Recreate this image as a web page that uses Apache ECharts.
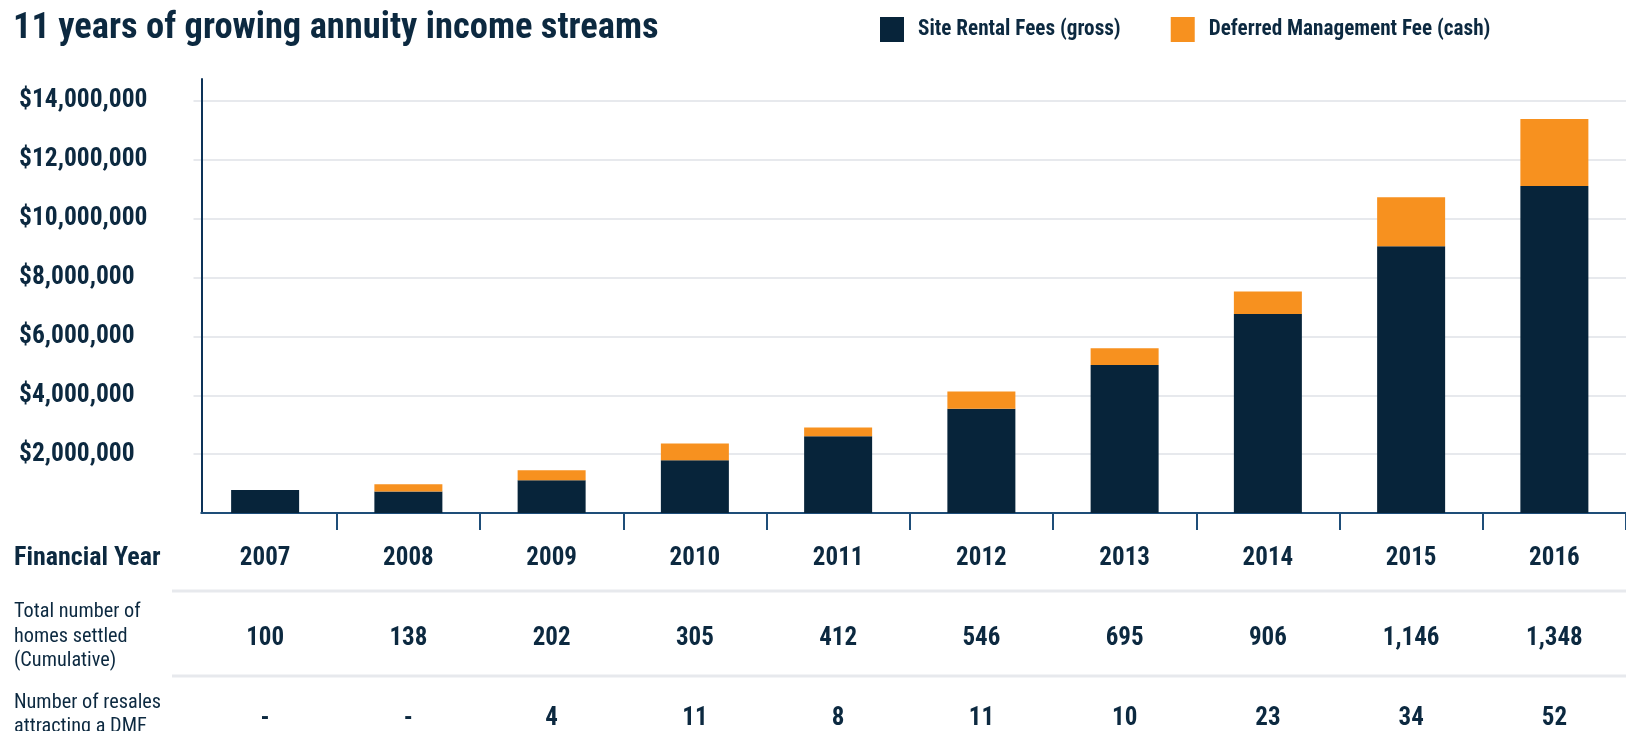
<!DOCTYPE html>
<html>
<head>
<meta charset="utf-8">
<script src="https://cdn.jsdelivr.net/npm/echarts@6/dist/echarts.min.js"></script>
<style>
html,body{margin:0;padding:0;background:#fff;}
#chart{width:1626px;height:731px;}
</style>
</head>
<body>
<div id="chart"></div>
<script>
// ---- data ----
const years = ['2007','2008','2009','2010','2011','2012','2013','2014','2015','2016'];
const siteRentalFees = [780000, 730000, 1110000, 1790000, 2610000, 3540000, 5030000, 6760000, 9070000, 11110000];
const deferredMgmtFee = [0, 250000, 340000, 570000, 300000, 590000, 570000, 770000, 1660000, 2280000];
const homesSettled = ['100','138','202','305','412','546','695','906','1,146','1,348'];
const resalesDMF = ['-','-','4','11','8','11','10','23','34','52'];
const seriesNames = ['Site Rental Fees (gross)', 'Deferred Management Fee (cash)'];
const rowLabels = ['Financial Year', 'Total number of\nhomes settled\n(Cumulative)', 'Number of resales\nattracting a DMF'];
const titleText = '11 years of growing annuity income streams';

const FONT = "'Roboto Condensed', Roboto, sans-serif";
const NAVY = '#07243a';
const TEXT = '#0c2940';
const ORANGE = '#f7911f';
const GRID = '#e7e9ed';

const chart = echarts.init(document.getElementById('chart'), null, {renderer: 'canvas'});

const option = {
  backgroundColor: '#ffffff',
  animation: false,
  title: {
    text: titleText,
    left: 13, top: 10.5, padding: 0,
    textStyle: {fontFamily: FONT, fontWeight: 'bold', fontSize: 36.5, color: TEXT}
  },
  legend: {
    left: 875, top: 12,
    icon: 'rect',
    itemWidth: 24, itemHeight: 25,
    itemGap: 50,
    data: seriesNames,
    textStyle: {fontFamily: FONT, fontWeight: 'bold', fontSize: 21.2, color: TEXT, padding: [3,0,0,9]}
  },
  grid: {left: 193.5, right: -32.5, top: 79, bottom: 218, containLabel: false},
  xAxis: [
    {
      type: 'category', data: years, position: 'bottom',
      axisLine: {show: true, lineStyle: {color: '#1e4d78', width: 2}},
      axisTick: {show: true, length: 17, lineStyle: {color: '#1e4d78', width: 2},
                 interval: function (i) { return i !== 0; }},
      axisLabel: {margin: 33, fontFamily: FONT, fontWeight: 'bold', fontSize: 25, color: TEXT},
      splitLine: {show: false}
    },
    {
      type: 'category', data: homesSettled, position: 'bottom',
      axisLine: {show: false}, axisTick: {show: false},
      axisLabel: {margin: 113, fontFamily: FONT, fontWeight: 'bold', fontSize: 25, color: TEXT}
    },
    {
      type: 'category', data: resalesDMF, position: 'bottom',
      axisLine: {show: false}, axisTick: {show: false},
      axisLabel: {margin: 193, fontFamily: FONT, fontWeight: 'bold', fontSize: 25, color: TEXT}
    }
  ],
  yAxis: {
    type: 'value', min: 0, max: 14750000, interval: 2000000,
    offset: -8.5,
    axisLine: {show: true, lineStyle: {color: '#0d3358', width: 2}},
    axisTick: {show: false},
    splitLine: {show: true, showMaxLine: false, lineStyle: {color: GRID, width: 2}},
    axisLabel: {
      showMaxLabel: false,
      margin: 183, align: 'left', padding: [4, 0, 0, 0],
      fontFamily: FONT, fontWeight: 'bold', fontSize: 25.5, color: TEXT,
      formatter: function (v) { return v === 0 ? '' : '$' + v.toLocaleString('en-US'); }
    }
  },
  series: [
    {name: seriesNames[0], type: 'bar', stack: 'total', data: siteRentalFees, barWidth: 68,
     itemStyle: {color: NAVY}, xAxisIndex: 0},
    {name: seriesNames[1], type: 'bar', stack: 'total', data: deferredMgmtFee, barWidth: 68,
     itemStyle: {color: ORANGE}, xAxisIndex: 0}
  ],
  graphic: [
    {type: 'rect', shape: {x: 184, y: 509, width: 16.5, height: 8}, style: {fill: '#fff'}, z: 100},
    {type: 'rect', shape: {x: 172, y: 589.5, width: 1460, height: 3}, style: {fill: GRID}},
    {type: 'rect', shape: {x: 172, y: 674.5, width: 1460, height: 3}, style: {fill: GRID}},
    {type: 'text', x: 14, y: 558, style: {text: rowLabels[0], font: "bold 26px " + FONT, fill: TEXT, verticalAlign: 'middle'}},
    {type: 'text', x: 14, y: 636.5, style: {text: rowLabels[1], font: "20.3px " + FONT, fill: TEXT, lineHeight: 24.5, verticalAlign: 'middle'}},
    {type: 'text', x: 14, y: 715, style: {text: rowLabels[2], font: "20.3px " + FONT, fill: TEXT, lineHeight: 24.5, verticalAlign: 'middle'}}
  ]
};
chart.setOption(option);
</script>
</body>
</html>
